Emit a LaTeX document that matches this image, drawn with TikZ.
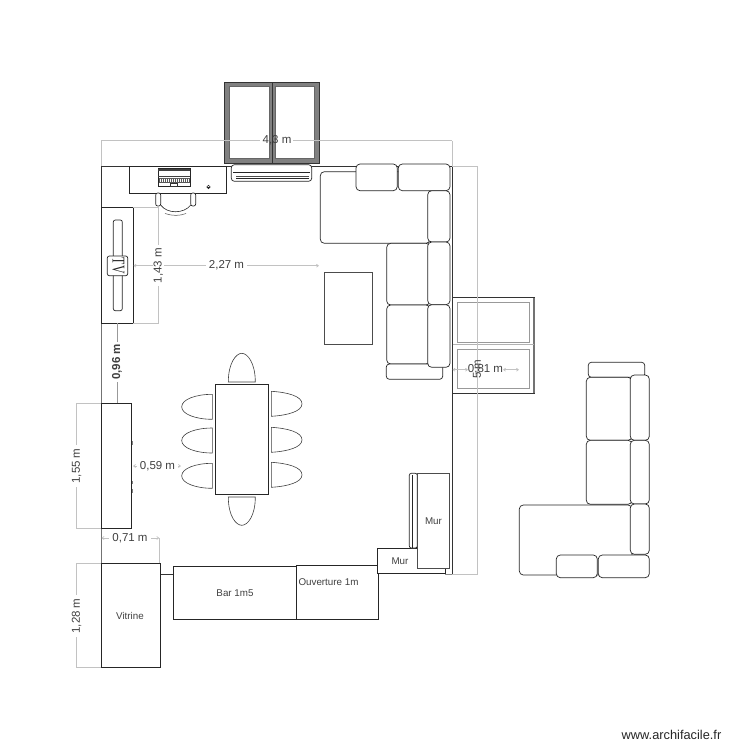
\documentclass[tikz,border=0pt]{standalone}
\usepackage{fontspec}
\usepackage{graphicx}
\setmainfont{Liberation Sans}
\newfontfamily\tvfont{Liberation Serif}
\definecolor{dimc}{gray}{0.76}
\definecolor{txt}{gray}{0.25}
\usetikzlibrary{arrows.meta}
\tikzset{
  wall/.style={draw=black!80,line width=0.8pt},
  furn/.style={draw=black!85,line width=0.7pt,fill=white},
  cush/.style={draw=black!85,line width=0.7pt,fill=white,rounded corners=4pt},
  dimline/.style={draw=dimc,line width=0.7pt},
  dimarrow/.style={dimline,{Straight Barb[length=2pt,width=3pt]}-{Straight Barb[length=2pt,width=3pt]}},
  dimlabel/.style={fill=white,inner xsep=3pt,inner ysep=0.5pt,text=txt,font=\fontsize{11.5}{12}\selectfont},
  plain/.style={text=txt,font=\fontsize{9.8}{10}\selectfont,inner sep=0pt},
  glass/.style={draw=black!40,line width=1pt,fill=white},
  frameA/.style={draw=black!80,line width=0.8pt,fill=black!50},
  seat/.style={draw=black!75,line width=0.6pt,fill=white}
}
\begin{document}
\begin{tikzpicture}[x=1pt,y=-1pt]
\useasboundingbox (0,0) rectangle (750,750);
% room walls
\draw[dimline] (101,166) -- (101,140.7);
\draw[dimline] (452,166) -- (452,140.7);
\draw[wall] (101,207) -- (101,166) -- (452.3,166) -- (452.3,574);
\draw[draw=black!55,line width=1pt] (101,403) -- (101,574);
\draw[draw=black!55,line width=0.7pt] (101,323) -- (101,403);
\draw[wall] (159,574) -- (173,574);
\draw[draw=black!45,line width=0.7pt] (445,574) -- (452.3,574);
% top window
\draw[frameA] (224,82) rectangle (319.7,163.3);
\draw[glass,draw=black!60,line width=0.6pt] (229,86.7) rectangle (269,158.3);
\draw[glass,draw=black!60,line width=0.6pt] (275,86.7) rectangle (314.3,158.3);
\draw[draw=black!80,line width=0.5pt] (271.8,82) -- (271.8,163.3);
% dimension 4,3 m
\draw[dimarrow,-] (101,140.7) -- (260,140.7);
\draw[dimarrow,-] (293,140.7) -- (452,140.7);
\node[dimlabel,fill=none] (d43) at (277,140.7) {4,3 m};
% AC unit
\draw[furn,rounded corners=3pt] (231.3,164.7) rectangle (311.7,181.3);
\draw[black!85,line width=0.6pt] (233,172) -- (310,172);
\draw[black!70,line width=0.5pt] (236,176) -- (309,176);
\draw[black!85,line width=0.6pt] (236,178) -- (309,178);
% desk
\draw[furn] (129,166.7) rectangle (226,193.3);
\draw[black!85,fill=white,line width=0.7pt] (158.3,168.7) rectangle (190,186);
\fill[black!75] (158.3,168.7) rectangle (190,170.5);
\fill[black!75] (158.3,176) rectangle (190,177);
\fill[black!65] (159,178) rectangle (189.5,183);
\foreach \k in {160,162,...,188}{\draw[white,line width=0.5pt] (\k,178.5) -- (\k,181.5);}
\draw[black!80,fill=white,line width=0.4pt] (170,183) rectangle (177,186);
\draw[black!85,line width=0.5pt] (208.5,187) circle (1.7);
\draw[black!85,line width=0.5pt] (206.8,187) -- (210.2,187);
% chair
\draw[black!85,line width=0.6pt] (160.7,205) .. controls (167,214) and (184,214) .. (190.7,205);
\draw[black!70,line width=0.5pt] (165,213.5) .. controls (172,216) and (180,216) .. (186,213.5);
\draw[furn,rounded corners=2pt] (155.7,193) rectangle (160.7,206);
\draw[furn,rounded corners=2pt] (190.7,193) rectangle (195.7,206);
% sofa in room
\draw[cush] (320.3,171.7) rectangle (430,243.3);
\draw[cush] (386.7,243.3) rectangle (430,305);
\draw[cush] (386.7,305) rectangle (430,364);
\draw[cush,rounded corners=3pt] (386.3,364) rectangle (442.7,379.3);
\draw[cush] (356,164) rectangle (397.3,190.7);
\draw[cush] (398.3,164) rectangle (450,190.7);
\draw[cush] (427.7,190.7) rectangle (450,242);
\draw[cush] (427.7,242) rectangle (450,304.7);
\draw[cush] (427.7,304.7) rectangle (450,367.3);
% coffee table
\draw[furn,draw=black!70] (324.3,272.7) rectangle (372.3,344.3);
% right window
\draw[draw=black!80,line width=0.8pt,fill=white] (452,297.7) rectangle (534,393.3);
\draw[black!55,line width=1.2pt] (534,297.7) -- (534,393.3);
\draw[glass] (457.3,302.7) rectangle (529.3,342.3);
\draw[glass] (457.3,349) rectangle (529.3,388.7);
\draw[black!30,line width=0.5pt] (452.5,344.5) -- (534,344.5);
% dims on the right
\draw[dimline] (452.3,166) -- (477,166) -- (477,574) -- (452.3,574);
\node[dimlabel,fill=none,rotate=90] (five) at (477,369) {5 m};
\draw[dimarrow] (452.5,369.7) -- (468,369.7);
\draw[dimarrow] (503,369.7) -- (519,369.7);
\node[dimlabel,fill=none] (wr) at (485.5,369.7) {0,81 m};
% tv stand
\draw[furn] (101,207.7) rectangle (133.3,323.3);
\draw[furn,rounded corners=2pt] (113.3,220) rectangle (122.3,310.7);
\draw[furn,rounded corners=2pt] (107.3,256) rectangle (127.7,275.7);
\node[rotate=-90,inner sep=0pt,text=black!85] (tv) at (118.3,265.8) {\scalebox{0.66}[1]{\tvfont\fontsize{18}{18}\selectfont TV}};
% dims 1,43 & 2,27
\draw[dimline] (133.3,207.7) -- (158.3,207.7) -- (158.3,323.3) -- (133.3,323.3);
\draw[dimarrow] (133.5,265.7) -- (319,265.7);
\node[dimlabel] (d227) at (226.5,265.7) {2,27 m};
\node[dimlabel,rotate=90] (d143) at (158.3,265.5) {1,43 m};
% dim 0,96
\draw[dimline,draw=black!40] (117,323.3) -- (117,403);
\node[dimlabel,rotate=90,font=\fontsize{11.5}{12}\selectfont\bfseries,inner xsep=2pt] (d96) at (117,362) {0,96 m};
% lower cabinet
\draw[furn] (101,403.3) rectangle (131.7,528.7);
\draw[black!50,line width=0.8pt] (132.2,441) -- (132.2,445);
\draw[black!50,line width=0.8pt] (132.2,481) -- (132.2,484);
\draw[black!50,line width=0.8pt] (132.2,489) -- (132.2,493);
\draw[dimline] (101,403.3) -- (76,403.3) -- (76,528.7) -- (101,528.7);
\node[dimlabel,rotate=90] (d155) at (76.7,466) {1,55 m};
\draw[dimarrow] (133,466) -- (181,466);
\node[dimlabel] (d59) at (157.5,466) {0,59 m};
% dining
\draw[furn] (215.3,384.3) rectangle (268.3,494.7);
\draw[seat] (228.3,382) .. controls (228.3,363) and (236,353.3) .. (241.8,353.3) .. controls (247.6,353.3) and (255.3,363) .. (255.3,382) -- cycle;
\draw[seat] (228.3,497) .. controls (228.3,516) and (236,525.3) .. (241.8,525.3) .. controls (247.6,525.3) and (255.3,516) .. (255.3,497) -- cycle;
\foreach \t in {394.3,428,463.3}{
  \draw[seat] (212.3,\t) .. controls (196,\t) and (181.7,\t+5) .. (181.7,\t+12.5) .. controls (181.7,\t+20) and (196,\t+25) .. (212.3,\t+25) -- cycle;
}
\foreach \t in {391.3,427.3,462.3}{
  \draw[seat] (271.3,\t) .. controls (288,\t+1) and (302,\t+5) .. (302,\t+12.5) .. controls (302,\t+20) and (288,\t+24) .. (271.3,\t+25) -- cycle;
}
% vitrine
\draw[dimline] (159.3,538) -- (159.3,563);
\draw[dimarrow] (101.5,538) -- (159.3,538);
\node[dimlabel] (d71) at (130,538) {0,71 m};
\node[furn,minimum width=58.5pt,minimum height=104.3pt,inner sep=0pt,anchor=north west] (vitrine) at (101,563) {};
\node[plain] at (130,616) {Vitrine};
\draw[dimline] (101,563) -- (76.7,563) -- (76.7,667.3) -- (101,667.3);
\node[dimlabel,rotate=90] (d128) at (76.7,616) {1,28 m};
% bar, opening
\draw[furn] (173.3,566) rectangle (296,619.3);
\node[plain] at (235,592.7) {Bar 1m5};
\draw[furn] (296,565.7) rectangle (378,619.3);
\node[plain] at (328.5,581.7) {Ouverture 1m};
% mur
\draw[furn] (377.5,548) rectangle (445,573.7);
\node[plain] at (400,560.7) {Mur};
\draw[furn,rounded corners=2pt] (409.3,473.3) -- (409.3,548) -- (417.3,548) -- (417.3,473.3) -- cycle;
\draw[black!85,line width=1pt] (412.8,475) -- (412.8,548);
\draw[furn,draw=black!70] (417.3,473.3) rectangle (449.3,568.7);
\node[plain] at (433.5,520.7) {Mur};
% second sofa
\draw[cush,rounded corners=3pt] (588.3,362.3) rectangle (644.7,377.3);
\draw[cush] (586.3,377.3) rectangle (632,440.3);
\draw[cush] (586.3,440.3) rectangle (632,504.3);
\draw[cush] (519.3,505) rectangle (632,575);
\draw[cush] (630.3,375) rectangle (649.3,440.3);
\draw[cush] (630.3,440.3) rectangle (649.3,504);
\draw[cush] (630.3,504) rectangle (649.3,554.3);
\draw[cush] (556.3,555) rectangle (597.3,577.7);
\draw[cush] (598.3,555) rectangle (649.3,577.7);
% footer
\node[inner sep=0pt,text=black!85,font=\fontsize{12.8}{13}\selectfont] (footer) at (671.5,735) {www.archifacile.fr};
\end{tikzpicture}
\end{document}
